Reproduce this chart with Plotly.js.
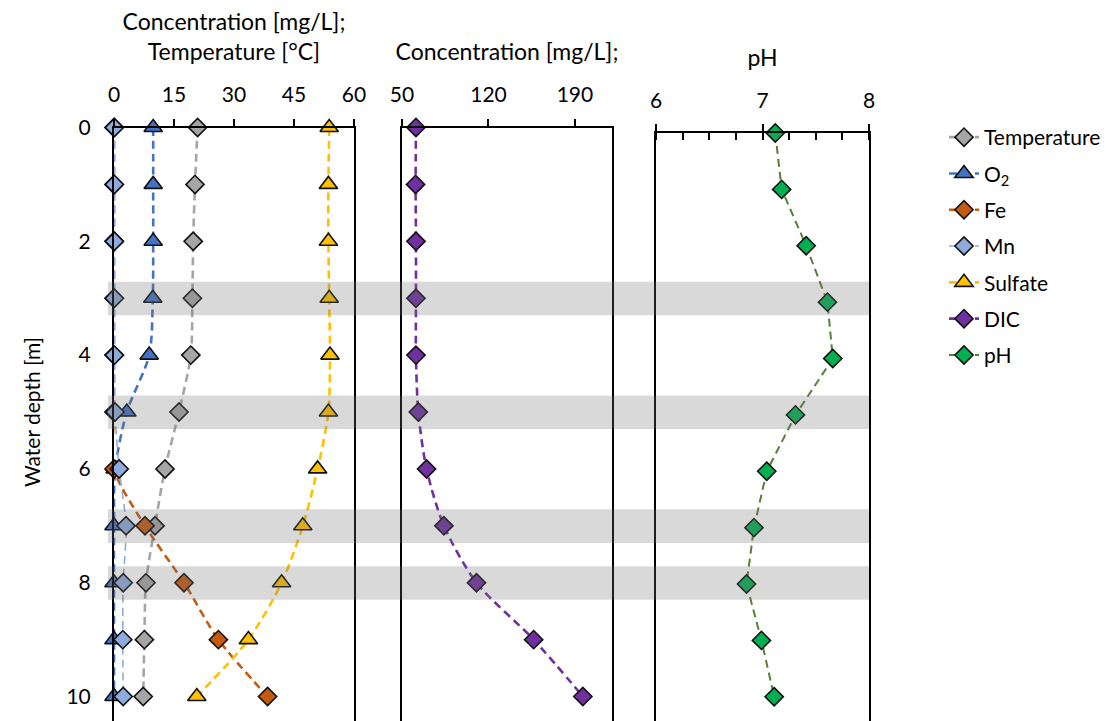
<!DOCTYPE html>
<html>
<head>
<meta charset="utf-8">
<script src="https://cdn.plot.ly/plotly-3.0.1.min.js"></script>
<style>html,body{margin:0;padding:0;background:#fff;}#chart{width:1106px;height:721px;}</style>
</head>
<body>
<div id="chart"></div>
<script>
// ---- data ----
const depth = [0, 1, 2, 3, 4, 5, 6, 7, 8, 9, 10];
const temperature = [20.9, 20.25, 19.8, 19.6, 19.2, 16.25, 12.75, 10.25, 8.0, 7.6, 7.3];
const o2 = [9.8, 9.8, 9.8, 9.7, 8.8, 3.2, 0.3, 0, 0, 0, 0];
const fe = [0, 0, 0, 0, 0, 0, 0, 7.75, 17.5, 26.1, 38.4];
const mn = [0.1, 0.1, 0.1, 0.1, 0.1, 0.25, 1.3, 3.0, 2.3, 2.2, 2.3];
const sulfate = [53.8, 53.6, 53.6, 53.8, 54.0, 53.6, 50.9, 47.2, 41.9, 33.6, 20.7];
const dic = [61.3, 61.0, 61.3, 61.3, 61.3, 63.2, 69.9, 83.9, 110.3, 156.6, 196.4];
const ph = [7.12, 7.18, 7.41, 7.61, 7.66, 7.31, 7.04, 6.92, 6.85, 6.99, 7.11];
const bandDepths = [3, 5, 7, 8];

const seriesNames = ['Temperature', 'O<sub>2</sub>', 'Fe', 'Mn', 'Sulfate', 'DIC', 'pH'];
const yTitle = 'Water depth [m]';

// ---- styling ----
const FONT = 'Lato, "Open Sans", sans-serif';
const W = 1106, H = 721;
const px = v => v / W;
const py = v => 1 - v / H;

function trace(x, name, color, lineColor, symbol, size, lw, xa, ya, shape) {
  return {
    x: x, y: depth, name: name, xaxis: xa, yaxis: ya,
    type: 'scatter', mode: 'lines+markers', legendgroup: name,
    line: {color: lineColor, width: lw, dash: '8px,5px', shape: shape || 'spline', smoothing: 0.8},
    marker: {symbol: symbol, size: size, color: color, line: {color: '#111', width: 1.6}},
    cliponaxis: false
  };
}

const data = [
  trace(temperature, seriesNames[0], '#a5a5a5', '#a5a5a5', 'diamond', 14, 2.6, 'x', 'y'),
  trace(o2, seriesNames[1], '#4472c4', '#4472c4', 'triangle-up', 16, 2.6, 'x', 'y'),
  trace(fe, seriesNames[2], '#c55a11', '#c55a11', 'diamond', 14, 2.6, 'x', 'y'),
  trace(mn, seriesNames[3], '#8faadc', '#8faadc', 'diamond', 14, 1.6, 'x', 'y'),
  trace(sulfate, seriesNames[4], '#ffc000', '#ffc000', 'triangle-up', 16, 2.6, 'x', 'y'),
  trace(dic, seriesNames[5], '#7030a0', '#7030a0', 'diamond', 14, 2.6, 'x2', 'y2'),
  trace(ph, seriesNames[6], '#00b050', '#548235', 'diamond', 14, 2.0, 'x3', 'y3', 'linear')
];

const tickFont = {family: FONT, size: 21, color: '#000'};
const titleFont = {family: FONT, size: 23, color: '#000'};
function topAxis(domain, range, tick0, dtick, title, standoff, anchor) {
  return {
    domain: domain, range: range, tick0: tick0, dtick: dtick, tickmode: 'linear',
    side: 'top', anchor: anchor, showline: true, linecolor: '#000', linewidth: 2,
    ticks: 'outside', ticklen: 7, tickwidth: 2, tickcolor: '#000',
    showgrid: false, zeroline: false, tickfont: tickFont, ticklabelstandoff: 8,
    title: {text: title, font: titleFont, standoff: standoff},
    fixedrange: true
  };
}
function overlayAxis(over, range, tick0, dtick, anchor) {
  return {
    overlaying: over, range: range, tick0: tick0, dtick: dtick, tickmode: 'linear',
    side: 'top', anchor: anchor, showline: false, showgrid: false, zeroline: false,
    ticks: 'inside', ticklen: 7, tickwidth: 2, tickcolor: '#000', showticklabels: false
  };
}
function sideAxis(domain, range, showLabels, anchor) {
  return {
    domain: domain, range: range, anchor: anchor, showline: true, mirror: true,
    linecolor: '#000', linewidth: 2, ticks: '', showgrid: false, zeroline: false,
    tickmode: 'linear', tick0: 0, dtick: 2, showticklabels: showLabels,
    tickfont: tickFont, ticklabelstandoff: 17, fixedrange: true
  };
}

const shapes = bandDepths.map(d => ({
  type: 'rect', layer: 'above', xref: 'paper', yref: 'y',
  x0: px(108), x1: px(869), y0: d - 0.29, y1: d + 0.3,
  fillcolor: 'rgba(115,113,113,0.27)', line: {width: 0}
}));

const layout = {
  width: W, height: H,
  margin: {l: 0, r: 0, t: 0, b: 0},
  paper_bgcolor: '#fff', plot_bgcolor: 'rgba(0,0,0,0)',
  font: {family: FONT, color: '#000'},
  showlegend: true,
  legend: {
    x: px(944), xanchor: 'left', y: py(117), yanchor: 'top',
    font: {family: FONT, size: 21, color: '#000'},
    tracegroupgap: 6, bgcolor: 'rgba(0,0,0,0)', traceorder: 'grouped'
  },
  xaxis: topAxis([px(114), px(354)], [0, 60], 0, 15, 'Concentration [mg/L];<br>Temperature [°C]', 14, 'y'),
  xaxis2: topAxis([px(402), px(612)], [50, 220], 50, 70, 'Concentration [mg/L];', 14, 'y2'),
  xaxis3: topAxis([px(656), px(869)], [6, 8], 6, 1, 'pH', 14, 'y3'),
  xaxis4: overlayAxis('x', [0, 60], 0, 15, 'y'),
  xaxis5: overlayAxis('x2', [50, 220], 50, 70, 'y2'),
  xaxis6: overlayAxis('x3', [6, 8], 6, 1, 'y3'),
  yaxis: sideAxis([0, py(127.5)], [10.43, 0], true, 'x'),
  yaxis2: sideAxis([0, py(127.5)], [10.43, 0], false, 'x2'),
  yaxis3: sideAxis([0, py(133)], [10.43, 0], false, 'x3'),
  annotations: [{
    text: yTitle, xref: 'paper', yref: 'paper', x: px(31), y: py(412),
    xanchor: 'center', yanchor: 'middle', textangle: -90, showarrow: false,
    font: {family: FONT, size: 21, color: '#000'}
  }],
  shapes: shapes
};
layout.xaxis3.minor = {ticks: 'inside', dtick: 0.25, tick0: 6, ticklen: 7, tickwidth: 2, tickcolor: '#000', showgrid: false};

Plotly.newPlot('chart', data, layout, {displayModeBar: false, staticPlot: true});
</script>
</body>
</html>
